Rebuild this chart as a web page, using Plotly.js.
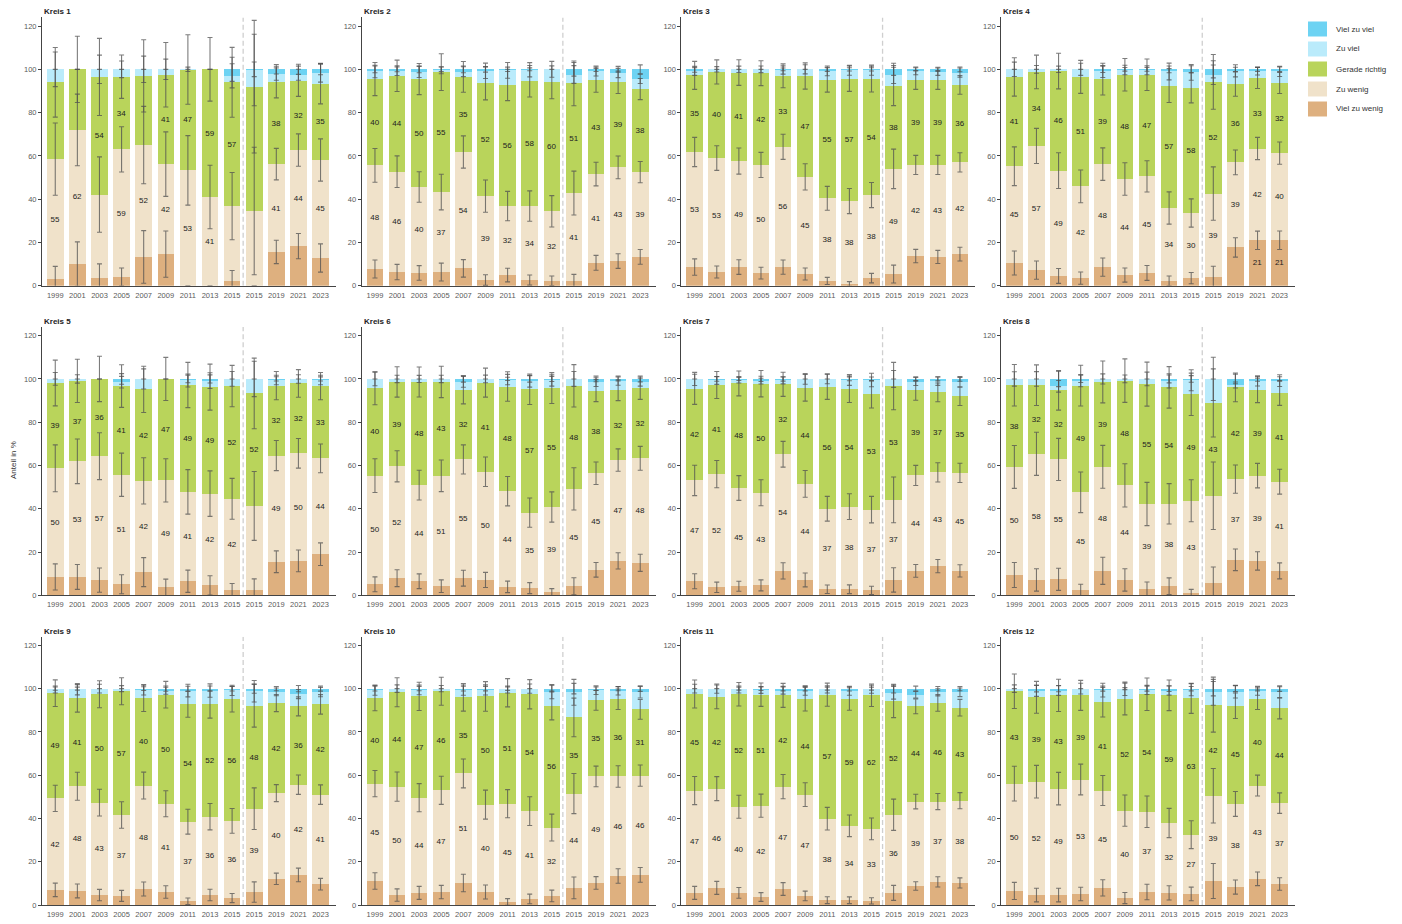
<!DOCTYPE html>
<html><head><meta charset="utf-8">
<script src="https://cdn.plot.ly/plotly-3.0.1.min.js"></script>
<style>html,body{margin:0;padding:0;background:#fff}#chart{width:1402px;height:924px}</style>
</head><body><div id="chart"></div>
<script>
// ---------- data ----------
const years = ['1999','2001','2003','2005','2007','2009','2011','2013','2015','2015','2019','2021','2023'];
const kreise = ['Kreis 1','Kreis 2','Kreis 3','Kreis 4','Kreis 5','Kreis 6','Kreis 7','Kreis 8','Kreis 9','Kreis 10','Kreis 11','Kreis 12'];
const seriesNames = ['Viel zu wenig','Zu wenig','Gerade richtig','Zu viel','Viel zu viel'];
const seriesColors = ['#DEB07F','#F0E2CA','#B9D45B','#BAEBFB','#6DD3F3'];

// values in % (one row per Kreis, one column per survey)
const vielZuWenig = [
  [3.1,10.0,3.5,4.0,13.3,14.6,0,0,2.2,0,15.6,18.3,12.8],
  [7.7,6.3,5.9,6.3,8.0,2.6,4.9,2.6,2.2,2.2,10.6,11.4,13.3],
  [8.6,6.3,8.6,5.8,8.6,5.4,2.2,0.8,3.5,5.4,13.7,13.3,14.6],
  [10.5,7.2,4.5,3.5,8.6,4.9,5.9,2.2,3.5,4.0,17.7,21.0,21.0],
  [8.5,8.5,7.0,5.1,10.7,3.7,6.5,4.6,2.5,2.5,15.5,15.9,19.0],
  [5.1,7.9,6.5,4.2,7.9,7.1,3.9,3.3,1.4,4.2,11.8,15.9,15.0],
  [6.5,3.7,4.2,4.6,11.3,7.1,2.8,2.8,2.3,7.1,11.3,13.5,11.3],
  [9.4,7.1,7.4,2.3,11.3,7.1,2.8,4.2,0.9,5.7,16.4,15.9,11.3],
  [7.0,6.5,4.6,4.2,7.4,6.0,1.7,4.6,3.2,6.0,12.1,13.9,9.6],
  [11.1,4.6,5.6,6.0,10.2,6.0,1.4,2.8,4.2,7.9,10.2,13.4,13.9],
  [5.6,7.9,5.6,3.7,7.4,4.2,2.2,2.2,1.9,5.6,8.8,10.7,10.2],
  [6.5,4.6,4.6,5.1,7.9,3.2,6.0,5.6,5.1,11.1,8.3,12.1,9.7]
];
const zuWenig = [
  [55.4,62.0,38.6,59.0,51.7,41.6,53.3,41.0,34.6,34.5,40.6,44.4,45.3],
  [47.9,46.4,39.7,37.0,53.8,38.8,31.9,34.2,32.2,40.6,41.0,43.3,39.2],
  [53.2,52.7,49.0,50.0,55.6,44.9,38.2,38.3,38.4,48.6,42.1,42.5,42.4],
  [44.7,57.4,48.7,42.4,47.6,44.4,44.6,33.7,30.1,38.6,39.3,42.4,40.3],
  [50.2,53.4,57.3,50.6,42.2,49.4,41.3,42.4,42.1,38.8,49.1,49.7,44.3],
  [50.2,51.7,44.4,51.0,54.9,50.0,44.2,34.9,39.4,45.0,44.6,46.6,48.3],
  [46.6,52.3,45.4,42.8,53.9,44.4,37.2,38.2,37.3,37.0,44.1,43.3,45.3],
  [49.9,58.3,55.4,45.3,48.1,43.7,39.4,38.1,42.8,40.3,37.3,39.4,41.2],
  [42.3,48.4,42.7,37.4,47.8,40.8,36.8,36.2,35.7,38.5,39.6,41.7,41.4],
  [45.0,50.1,44.0,47.0,50.6,40.4,45.4,40.6,31.6,43.6,49.2,46.0,45.9],
  [47.3,45.9,39.8,42.2,47.3,46.8,37.7,34.4,33.3,36.1,39.0,37.1,38.0],
  [49.6,52.4,49.2,52.9,45.0,40.4,37.1,32.3,27.4,39.4,38.4,43.1,37.4]
];
const geradeRichtig = [
  [35.5,28.0,54.4,33.6,32.0,41.3,46.6,59.0,57.2,57.5,37.8,31.8,35.3],
  [39.9,44.3,49.9,55.4,34.7,52.1,56.0,57.7,59.6,50.7,43.3,39.3,38.4],
  [35.4,39.8,40.9,42.4,32.8,46.6,54.7,56.6,53.6,38.1,39.3,39.3,35.8],
  [41.3,34.2,46.0,50.6,39.3,48.2,47.0,56.6,57.9,51.6,36.2,32.6,32.4],
  [39.4,37.2,35.7,41.0,42.3,46.9,49.4,49.2,52.1,52.0,32.3,32.3,33.4],
  [40.4,39.0,47.7,43.4,32.0,41.2,48.4,57.0,55.0,47.6,38.2,32.3,32.4],
  [42.1,41.2,48.3,50.4,32.3,44.4,56.4,54.2,53.3,52.6,39.3,37.0,35.4],
  [37.8,31.7,31.9,49.3,39.2,48.4,55.4,53.8,49.2,42.9,42.4,39.4,41.0],
  [48.6,40.6,50.1,57.2,40.3,50.4,54.2,51.9,56.2,47.6,41.6,36.2,41.7],
  [39.6,43.6,46.8,45.8,35.2,50.0,51.3,54.0,56.4,35.2,35.2,35.7,30.6],
  [44.6,42.4,52.0,51.3,42.2,44.1,57.3,58.6,61.7,52.4,44.0,45.6,43.0],
  [42.7,39.0,43.1,38.9,40.8,51.6,54.3,59.0,63.0,42.1,45.4,39.9,43.8]
];
const zuViel = [
  [6.0,0,3.5,3.4,3.0,2.5,0.1,0,3.0,7.7,3.8,3.0,4.9],
  [3.5,2.4,3.3,0.9,2.4,5.8,6.7,5.3,6.0,4.1,4.3,4.3,4.7],
  [1.8,1.2,1.5,1.8,2.7,3.1,4.2,3.9,4.1,5.5,4.2,3.8,5.7],
  [3.5,1.2,0.8,3.5,3.5,2.2,2.1,6.5,7.1,3.3,6.1,3.2,5.3],
  [1.9,0.9,0,1.8,4.8,0,2.1,3.0,3.3,6.7,2.6,2.1,2.8],
  [4.3,1.4,1.4,1.4,4.0,1.7,3.2,3.7,3.5,3.2,3.9,4.4,2.8],
  [4.8,2.1,1.7,1.2,1.8,4.1,3.6,4.3,6.6,3.3,4.1,5.2,6.5],
  [2.9,2.9,1.9,2.3,1.4,0.8,2.4,3.0,6.5,11.1,1.1,4.4,5.7],
  [1.7,4.2,2.6,1.2,4.0,1.8,6.4,6.4,4.1,6.7,5.2,5.7,5.7],
  [3.5,1.7,3.0,1.2,3.3,3.0,1.5,2.6,6.4,11.6,4.7,3.9,7.9],
  [2.5,3.8,2.2,2.2,2.2,4.0,2.4,3.7,2.7,4.0,5.4,4.9,7.1],
  [1.2,3.0,2.2,3.1,5.6,4.7,2.0,2.2,4.0,5.7,6.5,3.7,7.4]
];
const vielZuViel = [
  [0,0,0,0,0,0,0,0,3.0,0.3,2.2,2.5,1.7],
  [1.0,0.6,1.2,0.4,1.1,0.7,0.5,0.2,0,2.4,0.8,1.7,4.4],
  [1.0,0,0,0,0.3,0,0.7,0.4,0.4,2.4,0.7,1.1,1.5],
  [0,0,0,0,1.0,0.3,0.4,1.0,1.4,2.5,0.7,0.8,1.0],
  [0,0,0,1.5,0,0,0.7,0.8,0,0,0.5,0,0.5],
  [0,0,0,0,1.2,0,0.3,1.1,0.7,0,1.5,0.8,1.5],
  [0,0.7,0.4,1.0,0.7,0,0,0.5,0.5,0,1.2,1.0,1.5],
  [0,0,3.4,0.8,0,0,0,0.9,0.6,0,2.8,0.9,0.8],
  [0.4,0.3,0,0,0.5,1.0,0.9,0.9,0.8,1.2,1.5,2.5,1.6],
  [0.8,0,0.6,0,0.7,0.6,0.4,0,1.4,1.7,0.7,1.0,1.7],
  [0,0,0.4,0.6,0.9,0.9,0.4,1.1,0.4,1.9,2.8,1.7,1.7],
  [0,1.0,0.9,0,0.7,0.1,0.6,0.9,0.5,1.7,1.4,1.2,1.7]
];
// estimated sample sizes per survey (read from the width of the confidence intervals)
const stichprobe = [
  [34,33,30,85,30,42,37,43,36,10,175,170,100],
  [158,180,185,132,172,165,180,176,160,90,310,340,380],
  [210,295,265,285,280,260,300,270,270,115,480,480,470],
  [118,143,140,165,170,169,182,155,190,60,280,355,350],
  [82,90,80,96,82,96,88,85,105,36,198,205,215],
  [158,185,200,180,210,208,206,190,187,100,350,360,315],
  [193,240,290,260,270,250,275,255,240,80,440,480,480],
  [98,94,100,108,98,95,92,104,100,38,212,285,283],
  [255,230,245,240,250,255,270,240,270,98,600,463,460],
  [260,210,225,227,215,206,225,210,215,110,420,390,395],
  [227,310,325,330,305,318,330,345,340,170,800,650,645],
  [148,168,170,190,198,178,168,185,185,58,275,408,400]
];
// label visibility: [kreis index, survey index]
const hideZuWenig = [[0,2],[0,8],[0,9],[4,9],[7,9]];
const hideGerade = [[0,0],[0,1],[0,4],[0,9]];
const showVielZuWenig = [[3,11],[3,12]];

// ---------- build ----------
const W = 1402, H = 924;
const colX = [42, 361.7, 681.4, 1001.1];
const rowBase = [285.7, 595.3, 905.0];
const plotW = 294, plotH = 268.3, yMax = 124;
const seriesData = [vielZuWenig, zuWenig, geradeRichtig, zuViel, vielZuViel];
const idx = years.map((_, i) => i);
const inList = (list, k, i) => list.some(p => p[0] === k && p[1] === i);

function ci(v, n) {
  if (!v) return null;
  const p = v / 100;
  return 196 * Math.sqrt(p * (1 - p) / n);
}

const barTraces = [];
const errTraces = [];
const layout = {
  width: W, height: H, autosize: false,
  margin: {l: 0, r: 0, t: 0, b: 0},
  paper_bgcolor: '#fff', plot_bgcolor: '#fff',
  barmode: 'stack', bargap: 0.25,
  showlegend: false,
  font: {family: 'Liberation Sans, Arial, sans-serif', size: 8, color: '#333'},
  shapes: [], annotations: []
};

kreise.forEach((name, k) => {
  const c = k % 4, r = Math.floor(k / 4);
  const sfx = k === 0 ? '' : String(k + 1);
  const x0 = colX[c], x1 = x0 + plotW;
  const yb = rowBase[r], yt = yb - plotH;
  layout['xaxis' + sfx] = {
    domain: [x0 / W, x1 / W], anchor: 'y' + sfx,
    range: [-0.6, 12.7], tickmode: 'array', tickvals: idx, ticktext: years,
    tickfont: {size: 7.5, color: '#5a5a5a'}, ticklabelstandoff: 2,
    showline: true, linecolor: '#444', linewidth: 1,
    ticks: '', showgrid: false, zeroline: false, fixedrange: true
  };
  layout['yaxis' + sfx] = {
    domain: [1 - yb / H, 1 - yt / H], anchor: 'x' + sfx,
    range: [0, yMax], tickmode: 'array', tickvals: [0,20,40,60,80,100,120],
    tickfont: {size: 7.5, color: '#5a5a5a'}, showline: true, linecolor: '#444', linewidth: 1,
    ticks: 'outside', ticklen: 3, tickcolor: '#444',
    showgrid: false, zeroline: false, fixedrange: true
  };
  layout.shapes.push({
    type: 'line', xref: 'x' + sfx, yref: 'y' + sfx, x0: 8.5, x1: 8.5, y0: 0, y1: yMax,
    line: {color: '#cfcfcf', width: 1.3, dash: '5px,3px'}, layer: 'above'
  });
  layout.annotations.push({
    xref: 'paper', yref: 'paper', x: x0 / W, y: 1 - (yt - 5.5) / H,
    xanchor: 'left', yanchor: 'middle', showarrow: false,
    text: '<b>' + name + '</b>', font: {size: 8, color: '#222'}
  });

  const cum = idx.map(() => 0);
  seriesData.forEach((arr, s) => {
    const vals = arr[k];
    const n = stichprobe[k];
    const text = vals.map((v, i) => {
      if (s === 0) return inList(showVielZuWenig, k, i) ? String(Math.round(v)) : '';
      if (s === 1) return inList(hideZuWenig, k, i) ? '' : String(Math.round(v));
      if (s === 2) return inList(hideGerade, k, i) ? '' : String(Math.round(v));
      return '';
    });
    barTraces.push({
      type: 'bar', name: seriesNames[s], x: idx, y: vals,
      xaxis: 'x' + sfx, yaxis: 'y' + sfx,
      marker: {color: seriesColors[s], line: {width: 0}},
      text: text, textposition: 'inside', insidetextanchor: 'middle',
      textangle: 0, constraintext: 'none',
      textfont: {size: 8, color: '#222'}, insidetextfont: {size: 8, color: '#222'},
      hoverinfo: 'skip', showlegend: false
    });
    // confidence intervals drawn on top, at the upper edge of each stacked segment
    vals.forEach((v, i) => { cum[i] += v; });
    errTraces.push({
      type: 'scatter', mode: 'markers', x: idx, y: cum.slice(),
      xaxis: 'x' + sfx, yaxis: 'y' + sfx,
      marker: {size: 1, color: 'rgba(0,0,0,0)'},
      error_y: {type: 'data', array: vals.map((v, i) => ci(v, n[i])), visible: true,
                color: 'rgba(80,80,80,0.75)', thickness: 1.1, width: 2.5},
      hoverinfo: 'skip', showlegend: false
    });
  });
});

// y-axis title
layout.annotations.push({
  xref: 'paper', yref: 'paper', x: 13 / W, y: 1 - 460 / H, textangle: -90,
  xanchor: 'center', yanchor: 'middle', showarrow: false,
  text: 'Anteil in %', font: {size: 8, color: '#333'}
});

// legend (top to bottom: Viel zu viel ... Viel zu wenig)
const legendOrder = [4, 3, 2, 1, 0];
legendOrder.forEach((s, j) => {
  const cy = 29 + 20 * j;
  layout.shapes.push({
    type: 'rect', xref: 'paper', yref: 'paper',
    x0: 1308 / W, x1: 1327 / W, y0: 1 - (cy + 7.5) / H, y1: 1 - (cy - 7.5) / H,
    fillcolor: seriesColors[s], line: {width: 0}
  });
  layout.annotations.push({
    xref: 'paper', yref: 'paper', x: 1334 / W, y: 1 - cy / H,
    xanchor: 'left', yanchor: 'middle', showarrow: false,
    text: seriesNames[s], font: {size: 8, color: '#333'}
  });
});

Plotly.newPlot('chart', barTraces.concat(errTraces), layout, {staticPlot: true, displayModeBar: false});
</script></body></html>
